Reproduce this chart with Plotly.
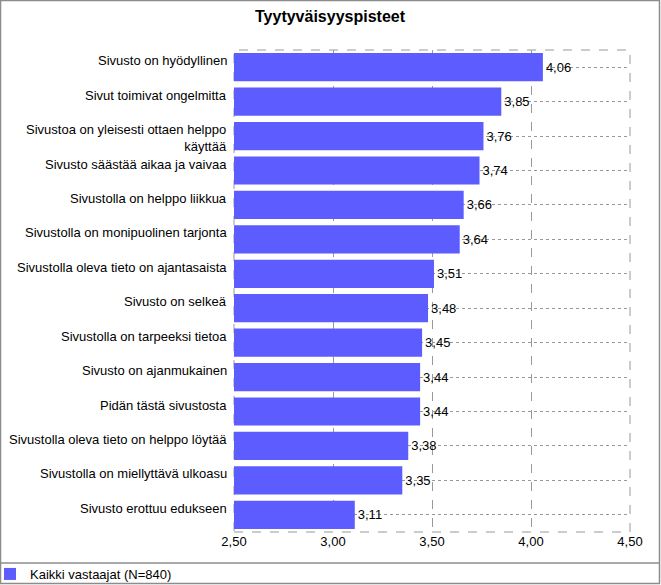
import plotly.graph_objects as go

categories = [
    "Sivusto on hyödyllinen",
    "Sivut toimivat ongelmitta",
    "Sivustoa on yleisesti ottaen helppo<br>käyttää",
    "Sivusto säästää aikaa ja vaivaa",
    "Sivustolla on helppo liikkua",
    "Sivustolla on monipuolinen tarjonta",
    "Sivustolla oleva tieto on ajantasaista",
    "Sivusto on selkeä",
    "Sivustolla on tarpeeksi tietoa",
    "Sivusto on ajanmukainen",
    "Pidän tästä sivustosta",
    "Sivustolla oleva tieto on helppo löytää",
    "Sivustolla on miellyttävä ulkoasu",
    "Sivusto erottuu edukseen",
]
values = [4.06, 3.85, 3.76, 3.74, 3.66, 3.64, 3.51, 3.48, 3.45, 3.44, 3.44, 3.38, 3.35, 3.11]
series_name = "Kaikki vastaajat (N=840)"
title = "Tyytyväisyyspisteet"
x_ticks = [2.5, 3.0, 3.5, 4.0, 4.5]

W, H = 661, 585
L, R, T, B = 234, 31, 50, 53
pw, ph = W - L - R, H - T - B

font = "Liberation Sans, Arial, sans-serif"
bar_color = "#5c5cff"


def px_x(p):
    return (p - L) / pw


def px_y(p):
    return (T + ph - p) / ph


fig = go.Figure()
fig.add_trace(go.Bar(
    y=categories, x=values, orientation="h", name=series_name,
    marker=dict(color=bar_color, line=dict(width=0)),
    width=0.82,
    text=values, texttemplate="%{x:.2f}", textposition="outside",
    textfont=dict(size=13, color="black", family=font),
    cliponaxis=False,
))

annotations = []
for c in categories:
    annotations.append(dict(
        x=0, xref="paper", y=c, yref="y", xanchor="right", yanchor="top",
        xshift=-5, yshift=16, text=c, showarrow=False, align="right",
        font=dict(size=13, color="black", family=font),
    ))
annotations.append(dict(
    x=px_x(W / 2), xref="paper", y=px_y(16), yref="paper",
    text="<b>" + title + "</b>", showarrow=False,
    xanchor="center", yanchor="middle",
    font=dict(size=16, color="black", family=font),
))

shapes = [
    # outer frame
    dict(type="rect", xref="paper", yref="paper", x0=px_x(0.5), x1=px_x(W - 1.5),
         y0=px_y(H - 1.5), y1=px_y(0.5), line=dict(color="#8c8c8c", width=1.5), layer="below"),
    # legend separator
    dict(type="line", xref="paper", yref="paper", x0=px_x(0.5), x1=px_x(W - 1.5),
         y0=px_y(563), y1=px_y(563), line=dict(color="#8c8c8c", width=1.5)),
    # plot frame dashed
    dict(type="rect", xref="paper", yref="paper", x0=0, x1=1, y0=0, y1=1,
         line=dict(color="#999999", width=1, dash="dash"), layer="below"),
]

fig.update_layout(
    width=W, height=H, autosize=False,
    margin=dict(l=L, r=R, t=T, b=B, autoexpand=False),
    paper_bgcolor="white", plot_bgcolor="white",
    separators=",.",
    font=dict(family=font, size=13, color="black"),
    showlegend=True,
    legend=dict(x=px_x(-10), y=px_y(574), xanchor="left", yanchor="middle",
                orientation="h", font=dict(size=13, color="black", family=font),
                bgcolor="rgba(0,0,0,0)", itemwidth=30),
    xaxis=dict(range=[2.5, 4.5], tickvals=x_ticks, tickformat=".2f",
               showgrid=True, gridcolor="#999999", griddash="dash", gridwidth=1,
               zeroline=False, showline=False, ticks="",
               tickfont=dict(size=13, color="black")),
    yaxis=dict(autorange="reversed", showticklabels=False, showgrid=True,
               gridcolor="#999999", griddash="dot", gridwidth=1, ticks="", showline=False),
    annotations=annotations,
    shapes=shapes,
)

fig.write_html(
    "out.html",
    config={"displayModeBar": False},
    post_script="document.body.style.margin='0';document.body.style.overflow='hidden';",
)
